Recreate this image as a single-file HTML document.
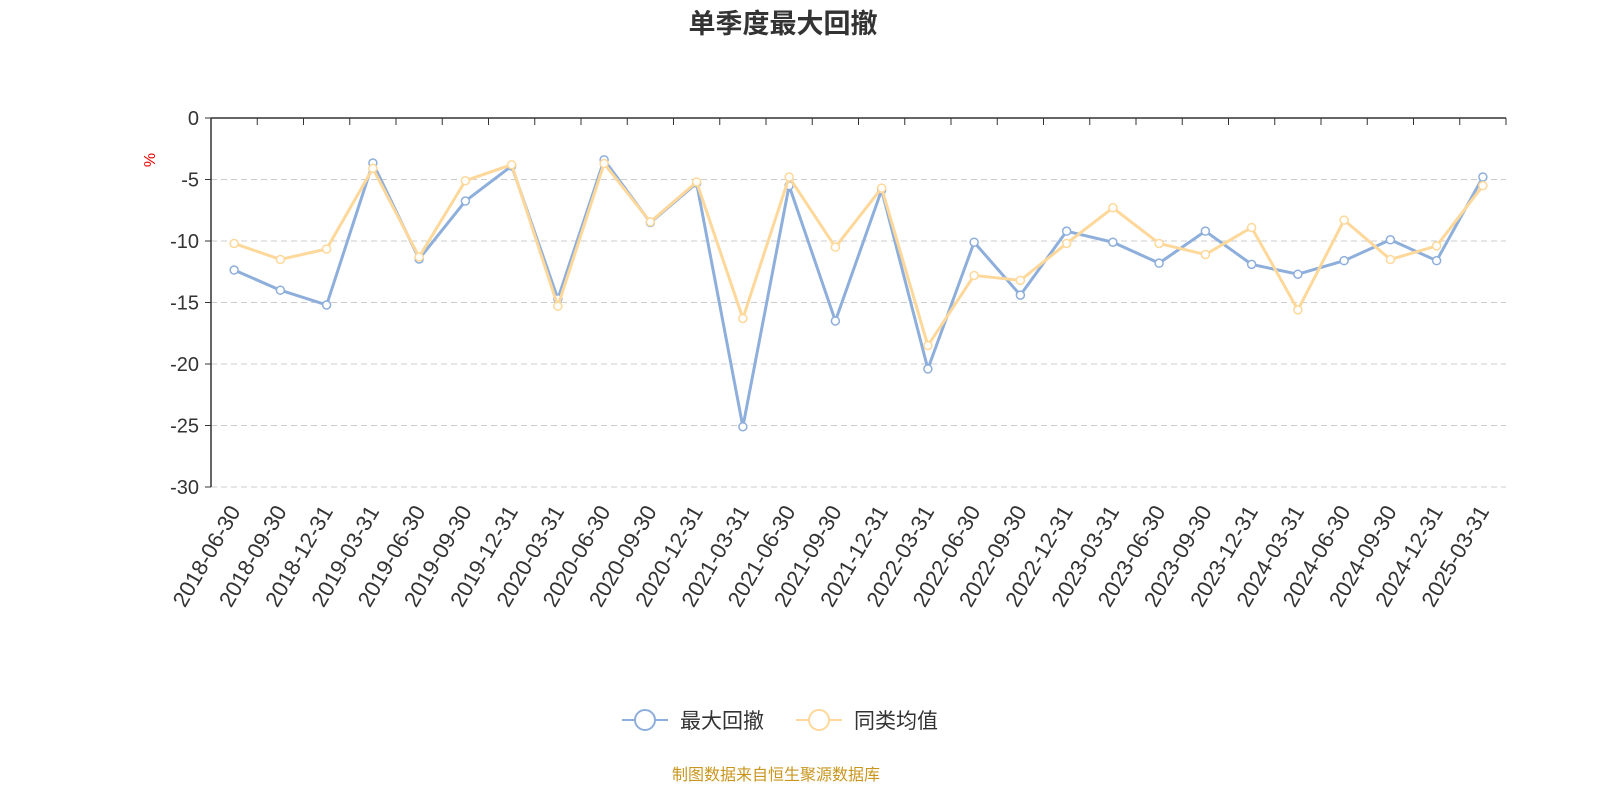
<!DOCTYPE html>
<html><head><meta charset="utf-8"><style>
body{margin:0;background:#fff;}
svg text{font-family:"Liberation Sans","Noto Sans CJK SC",sans-serif;}
</style></head><body>
<svg id="chart" width="1600" height="800" xmlns="http://www.w3.org/2000/svg">
<text x="783" y="33" text-anchor="middle" font-size="27" font-weight="bold" fill="#333">单季度最大回撤</text>
<text x="155" y="160" font-size="16" fill="#e00" transform="rotate(-90 155 160)" text-anchor="middle">%</text>
<g id="grid"></g><g id="axes"></g><g id="series"></g>
<g>
 <g>
  <line x1="622" y1="720" x2="668" y2="720" stroke="#8eaedb" stroke-width="2"/>
  <circle cx="645" cy="720" r="10" fill="#fff" stroke="#8eaedb" stroke-width="2"/>
  <text x="680" y="728" font-size="21" fill="#333">最大回撤</text>
 </g>
 <g>
  <line x1="796" y1="720" x2="842" y2="720" stroke="#fdd89a" stroke-width="2"/>
  <circle cx="819" cy="720" r="10" fill="#fff" stroke="#fdd89a" stroke-width="2"/>
  <text x="854" y="728" font-size="21" fill="#333">同类均值</text>
 </g>
</g>
<text x="776" y="780" text-anchor="middle" font-size="16" fill="#c8961e">制图数据来自恒生聚源数据库</text>
</svg>
<script>
const categories=["2018-06-30","2018-09-30","2018-12-31","2019-03-31","2019-06-30","2019-09-30","2019-12-31","2020-03-31","2020-06-30","2020-09-30","2020-12-31","2021-03-31","2021-06-30","2021-09-30","2021-12-31","2022-03-31","2022-06-30","2022-09-30","2022-12-31","2023-03-31","2023-06-30","2023-09-30","2023-12-31","2024-03-31","2024-06-30","2024-09-30","2024-12-31","2025-03-31"];
const maxDrawdown=[-12.36,-14.0,-15.2,-3.66,-11.46,-6.75,-3.9,-14.7,-3.4,-8.5,-5.3,-25.1,-5.5,-16.5,-5.85,-20.4,-10.1,-14.4,-9.2,-10.1,-11.8,-9.2,-11.9,-12.7,-11.6,-9.9,-11.6,-4.8];
const categoryAvg=[-10.2,-11.5,-10.65,-4.1,-11.3,-5.1,-3.8,-15.3,-3.7,-8.45,-5.2,-16.3,-4.8,-10.5,-5.7,-18.5,-12.8,-13.2,-10.2,-7.3,-10.2,-11.1,-8.9,-15.6,-8.3,-11.5,-10.4,-5.5];
const yTicks=[0,-5,-10,-15,-20,-25,-30];
const NS="http://www.w3.org/2000/svg";
const L=211,R=1506,T=118,B=487;
const band=(R-L)/categories.length;
const xs=i=>L+band*(i+0.5);
const ys=v=>T+(0-v)/30*(B-T);
function mk(tag,attrs,parent){const e=document.createElementNS(NS,tag);for(const k in attrs)e.setAttribute(k,attrs[k]);parent.appendChild(e);return e;}
const grid=document.getElementById('grid'),axes=document.getElementById('axes'),ser=document.getElementById('series');
yTicks.forEach(t=>{
 const y=ys(t);
 if(t!==0){const g=mk('line',{x1:L,x2:R,y1:y,y2:y,stroke:'#ccc','stroke-dasharray':'6,4'},grid);
 
 }
 const tk=mk('line',{x1:L-6,x2:L,y1:y,y2:y,stroke:'#333'},axes);
 
 
 const tx=mk('text',{x:L-12,y:y+7,'text-anchor':'end','font-size':20,fill:'#333'},axes);tx.textContent=t;
 
 
});
const ya=mk('line',{x1:L,x2:L,y1:T,y2:B,stroke:'#333','stroke-width':1.5},axes);


const xa=mk('line',{x1:L,x2:R,y1:T,y2:T,stroke:'#333','stroke-width':1.5},axes);


for(let i=0;i<=categories.length;i++){
 const x=L+band*i;
 const tk=mk('line',{x1:x,x2:x,y1:T,y2:T+7,stroke:'#333'},axes);
 
 
}
categories.forEach((c,i)=>{
 const x=xs(i)+7,y=B+24;
 const tx=mk('text',{x:x,y:y,'text-anchor':'end','font-size':22,fill:'#333',transform:`rotate(-60 ${x} ${y})`},axes);
 tx.textContent=c;
 
 
});
function drawSeries(vals,color,name){
 const g=mk('g',{},ser);
 
 
 const p=mk('polyline',{points:vals.map((v,i)=>xs(i)+','+ys(v)).join(' '),fill:'none',stroke:color,'stroke-width':3,'stroke-linejoin':'round'},g);
 
 
 vals.forEach((v,i)=>{
  const c=mk('circle',{cx:xs(i),cy:ys(v),r:4,fill:'#fff',stroke:color,'stroke-width':1.5},g);
  
  
 });
}
drawSeries(maxDrawdown,'#8eaedb','series-max-drawdown');
drawSeries(categoryAvg,'#fdd89a','series-category-average');
</script>
</body></html>
